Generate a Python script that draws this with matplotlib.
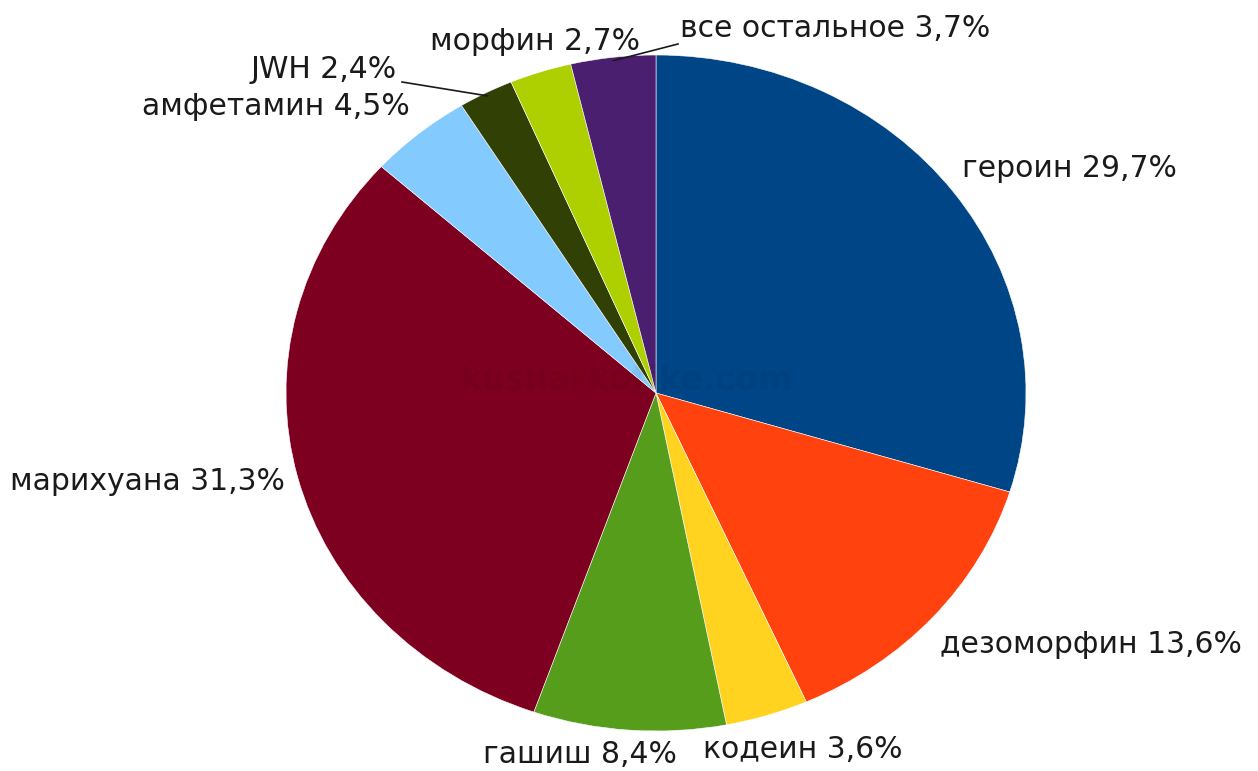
import numpy as np
import matplotlib.pyplot as plt

plt.rcParams['font.family'] = ['DejaVu Sans']

# данные диаграммы (по часовой стрелке от 12 часов)
names = ['героин', 'дезоморфин', 'кодеин', 'гашиш', 'марихуана',
         'амфетамин', 'JWH', 'морфин', 'все остальное']
shares = [29.7, 13.6, 3.6, 8.4, 31.3, 4.5, 2.4, 2.7, 3.7]
colors = ['#004586', '#ff420e', '#ffd320', '#579d1c', '#7e0021',
          '#83caff', '#314004', '#aecf00', '#4b1f6f']

# положение подписей в пикселях: (x, y базовой линии, выравнивание)
label_pos = [(962, 177, 'left'), (940, 653, 'left'), (703, 758, 'left'),
             (677, 763, 'right'), (285, 490, 'right'), (410, 115, 'right'),
             (397, 78, 'right'), (640, 50, 'right'), (680, 37, 'left')]
leader = {6: (402, 82), 8: (678, 44)}

W, H = 1258, 771
CX, CY, RX, RY = 656, 393, 370, 338


def px(x, y):
    return (x - CX) / RX, (CY - y) / RY


fig = plt.figure(figsize=(W / 100, H / 100), dpi=100)
ax = fig.add_axes([0, 0, 1, 1])

wedges, _ = ax.pie(shares, colors=colors, startangle=90, counterclock=False,
                   wedgeprops=dict(edgecolor='white', linewidth=0.4))
ax.set_aspect('auto')
ax.set_xlim(px(0, 0)[0], px(W, 0)[0])
ax.set_ylim(px(0, H)[1], px(0, 0)[1])
ax.axis('off')

for i, (n, v) in enumerate(zip(names, shares)):
    x, y, ha = label_pos[i]
    lx, ly = px(x, y)
    txt = f'{n} {v:.1f}%'.replace('.', ',')
    ax.text(lx, ly, txt, ha=ha, va='baseline', fontsize=21.5, color='#1a1a1a')

# выноски
for i, (x, y) in leader.items():
    w = wedges[i]
    a = np.deg2rad((w.theta1 + w.theta2) / 2)
    ex, ey = np.cos(a) * 0.99, np.sin(a) * 0.99
    sx, sy = px(x, y)
    ax.plot([sx, ex], [sy, ey], color='#1a1a1a', lw=1.2)

# водяной знак
wx, wy = px(626, 380)
ax.text(wx, wy, 'kusnarkotike.com', ha='center', va='center', fontsize=24,
        fontweight='bold', color='black', alpha=0.05)

fig.savefig('out.png', dpi=100)
